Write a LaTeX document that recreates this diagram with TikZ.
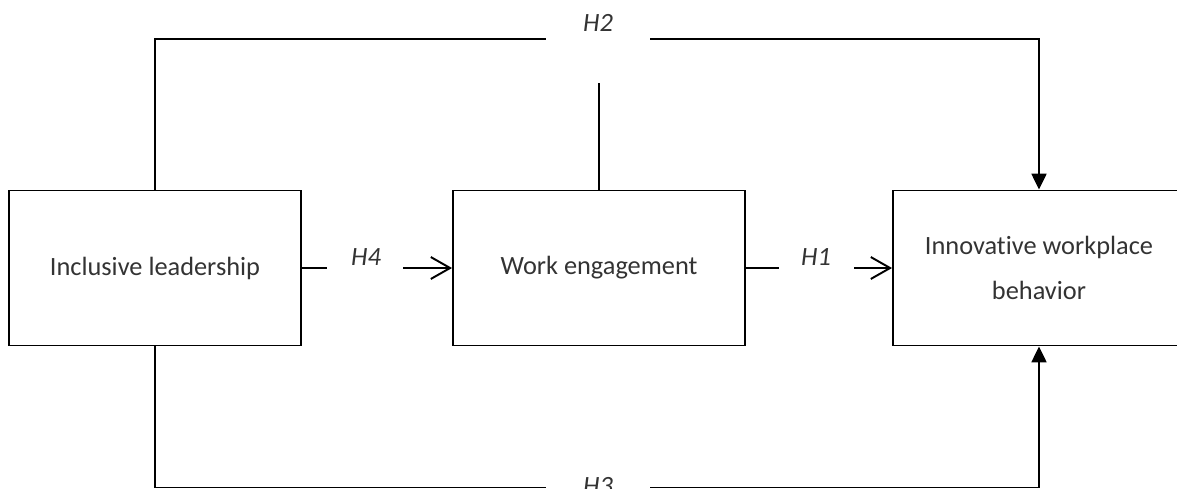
\documentclass[tikz,border=0pt]{standalone}
\usepackage{fontspec}
\setmainfont[Ligatures=NoCommon]{Carlito}
\usetikzlibrary{arrows.meta, positioning}

\begin{document}
\begin{tikzpicture}[x=0.02cm, y=-0.02cm, line width=1.1pt,
  varbox/.style={draw, minimum width=5.84cm, minimum height=3.1cm, align=center,
    font=\fontsize{15}{25.5}\selectfont, text=black!80},
  hyp/.style={font=\fontsize{15}{18}\selectfont\itshape, text=black!80},
  openarrow/.style={-{Straight Barb[length=11pt, width=12.5pt, line width=1.1pt]}},
  fillarrow/.style={-{Triangle[length=9pt, width=8.5pt]}}]
  \useasboundingbox (0,0) rectangle (1177,488);

  % Variables
  \node[varbox] (lead) at (155, 268) {Inclusive leadership};
  \node[varbox] (engage) at (599, 268) {Work engagement};
  \node[varbox] (innov) at (1039, 268) {Innovative workplace\\behavior};

  % Gaps for the path labels
  \coordinate (h2l) at (546, 39);
  \coordinate (h2r) at (650, 39);
  \coordinate (h2m) at (599, 83);
  \coordinate (h3l) at (546, 487.5);
  \coordinate (h3r) at (650, 487.5);
  \coordinate (h4l) at (327, 268);
  \coordinate (h4r) at (403, 268);
  \coordinate (h1l) at (779, 268);
  \coordinate (h1r) at (854, 268);

  % H4 and H1
  \draw (lead.east) -- (h4l);
  \draw[openarrow] (h4r) -- (engage.west);
  \node[hyp] (lab4) at (366, 257) {H4};
  \draw (engage.east) -- (h1l);
  \draw[openarrow] (h1r) -- (innov.west);
  \node[hyp] (lab1) at (816, 257) {H1};

  % H2 over the top
  \draw (lead.north) |- (h2l);
  \draw[fillarrow] (h2r) -| (innov.north);
  \draw (engage.north) -- (h2m);
  \node[hyp] (lab2) at (598, 23) {H2};

  % H3 along the bottom
  \draw (lead.south) |- (h3l);
  \draw[fillarrow] (h3r) -| (innov.south);
  \node[hyp] (lab3) at (598, 486) {H3};
\end{tikzpicture}
\end{document}
